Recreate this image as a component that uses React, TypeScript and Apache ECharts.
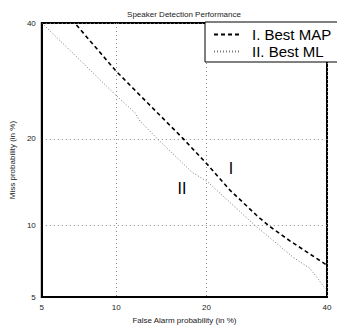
import React, { useEffect, useRef } from "react";
import * as echarts from "echarts";

// Tick values (percent) on both probit axes
const tickPercents = [5, 10, 20, 40];

// Series I. Best MAP (false alarm %, miss %)
const mapFalseAlarm = [7.0, 10.0, 11.7, 17.0, 20.3, 23.4, 27.6, 29.5, 33.2, 39.6, 40.0];
const mapMiss = [39.6, 30.9, 27.6, 20.0, 16.4, 13.5, 10.9, 10.0, 8.7, 7.0, 6.9];

// Series II. Best ML
const mlFalseAlarm = [5.0, 6.4, 10.0, 11.7, 12.2, 14.0, 18.1, 20.1, 27.3, 33.8, 36.8, 38.4, 39.3, 40.0];
const mlMiss = [40.0, 35.3, 26.7, 23.9, 22.6, 20.0, 15.6, 14.5, 10.0, 7.45, 6.7, 6.0, 5.6, 5.4];

const seriesNames = ["I. Best MAP", "II. Best ML"];
const curveLabels = ["I", "II"];
const titleText = "Speaker Detection Performance";
const xName = "False Alarm probability (in %)";
const yName = "Miss probability (in %)";

// inverse standard normal CDF (Acklam)
function probit(p: number): number {
  const a = [-3.969683028665376e1, 2.209460984245205e2, -2.759285104469687e2, 1.38357751867269e2, -3.066479806614716e1, 2.506628277459239];
  const b = [-5.447609879822406e1, 1.615858368580409e2, -1.556989798598866e2, 6.680131188771972e1, -1.328068155288572e1];
  const c = [-7.784894002430293e-3, -3.223964580411365e-1, -2.400758277161838, -2.549732539343734, 4.374664141464968, 2.938163982698783];
  const d = [7.784695709041462e-3, 3.224671290700398e-1, 2.445134137142996, 3.754408661907416];
  const pl = 0.02425;
  let q: number, r: number;
  if (p < pl) {
    q = Math.sqrt(-2 * Math.log(p));
    return (((((c[0] * q + c[1]) * q + c[2]) * q + c[3]) * q + c[4]) * q + c[5]) / ((((d[0] * q + d[1]) * q + d[2]) * q + d[3]) * q + 1);
  }
  if (p <= 1 - pl) {
    q = p - 0.5;
    r = q * q;
    return ((((((a[0] * r + a[1]) * r + a[2]) * r + a[3]) * r + a[4]) * r + a[5]) * q) / (((((b[0] * r + b[1]) * r + b[2]) * r + b[3]) * r + b[4]) * r + 1);
  }
  q = Math.sqrt(-2 * Math.log(1 - p));
  return -(((((c[0] * q + c[1]) * q + c[2]) * q + c[3]) * q + c[4]) * q + c[5]) / ((((d[0] * q + d[1]) * q + d[2]) * q + d[3]) * q + 1);
}

const pz = (pct: number) => probit(pct / 100);
const tickZ = tickPercents.map(pz);
const labelFor = (v: number) => {
  let best = 0;
  for (let i = 0; i < tickZ.length; i++) if (Math.abs(tickZ[i] - v) < Math.abs(tickZ[best] - v)) best = i;
  return String(tickPercents[best]);
};

const FONT = "'Liberation Sans', Arial, Helvetica, sans-serif";

export default function App() {
  const ref = useRef<HTMLDivElement>(null);
  useEffect(() => {
    if (!ref.current) return;
    const chart = echarts.init(ref.current, null, { renderer: "svg" });
    const zMin = tickZ[0];
    const zMax = tickZ[tickZ.length - 1];
    const axisCommon = (name: string, isX: boolean) => ({
      type: "value",
      min: zMin,
      max: zMax,
      name,
      nameLocation: "middle",
      nameGap: isX ? 17 : 20,
      nameTextStyle: { fontFamily: FONT, fontSize: 8, color: "#222" },
      axisLine: { show: true, onZero: false, lineStyle: { color: "#000", width: 2 } },
      axisTick: { show: false, customValues: tickZ },
      axisLabel: {
        customValues: tickZ,
        formatter: (v: number) => labelFor(v),
        fontFamily: FONT,
        fontSize: 8,
        color: "#222",
        margin: isX ? 6 : 6,
        showMinLabel: true,
        showMaxLabel: true,
      },
      splitLine: { show: true, lineStyle: { color: "#888", width: 1, type: [1, 3] } },
    });
    chart.setOption({
      animation: false,
      backgroundColor: "#fff",
      title: {
        text: titleText,
        left: 184,
        top: 10,
        padding: 0,
        textAlign: "center",
        textStyle: { fontFamily: FONT, fontSize: 8, fontWeight: "normal", color: "#222" },
      },
      grid: {
        left: 41,
        right: 10,
        top: 23,
        bottom: 21,
        show: true,
        borderColor: "#000",
        borderWidth: 2,
        backgroundColor: "transparent",
      },
      legend: {
        left: 205,
        top: 22,
        orient: "vertical",
        selectedMode: false,
        backgroundColor: "#fff",
        borderColor: "#000",
        borderWidth: 1,
        borderRadius: 0,
        padding: [5, 24, 3, 8],
        itemWidth: 25,
        itemHeight: 14,
        itemGap: 2,
        itemStyle: { opacity: 0 },
        textStyle: { fontFamily: FONT, fontSize: 15, color: "#000", padding: [0, 0, 0, 8] },
        data: seriesNames,
        z: 10,
      },
      xAxis: axisCommon(xName, true),
      yAxis: axisCommon(yName, false),
      series: [
        {
          name: seriesNames[0],
          type: "line",
          symbol: "none",
          smooth: false,
          data: mapFalseAlarm.map((x, i) => [pz(x), pz(mapMiss[i])]),
          lineStyle: { color: "#000", width: 1.6, type: [4, 3] },
          itemStyle: { color: "#000" },
        },
        {
          name: seriesNames[1],
          type: "line",
          symbol: "none",
          smooth: false,
          data: mlFalseAlarm.map((x, i) => [pz(x), pz(mlMiss[i])]),
          lineStyle: { color: "#777", width: 1, type: [1, 2] },
          itemStyle: { color: "#777" },
        },
      ],
      graphic: [
        { type: "text", x: 231, y: 168, z: 20, style: { text: curveLabels[0], fontSize: 16, fontFamily: FONT, fill: "#000", stroke: "none", align: "center", verticalAlign: "middle" } },
        { type: "text", x: 182, y: 188, z: 20, style: { text: curveLabels[1], fontSize: 16, fontFamily: FONT, fill: "#000", stroke: "none", align: "center", verticalAlign: "middle" } },
      ],
    });
    return () => chart.dispose();
  }, []);
  return <div ref={ref} style={{ position: "absolute", left: 0, top: 0, width: 337, height: 329 }} />;
}
